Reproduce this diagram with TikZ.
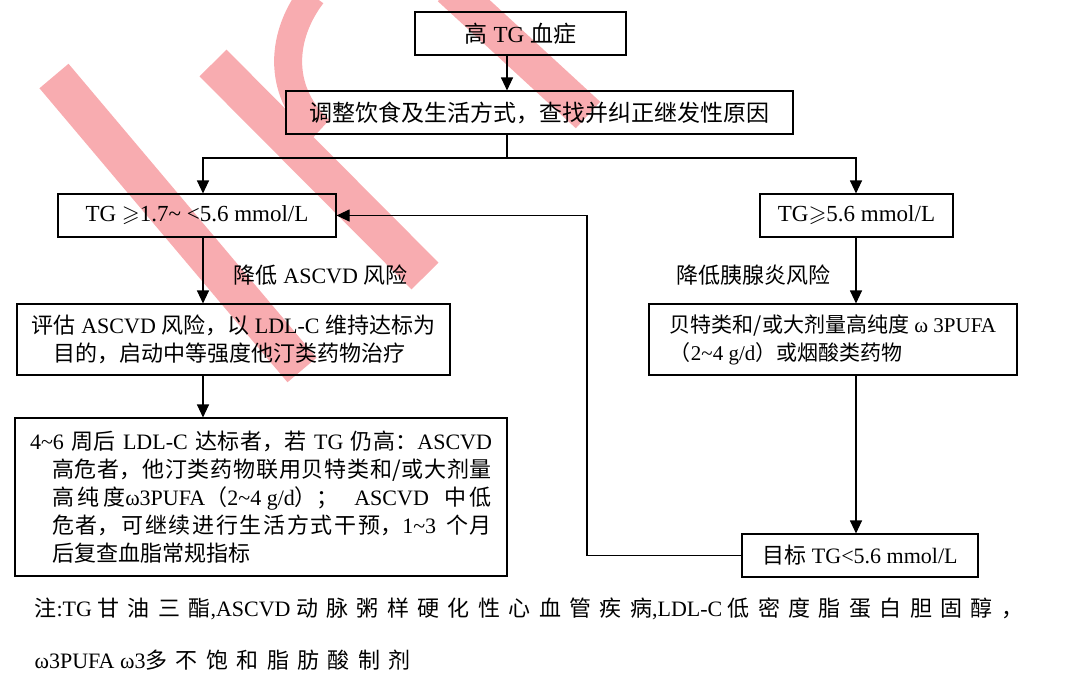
\documentclass[tikz,border=0pt]{standalone}
\usepackage{fontspec}
\usepackage{amssymb}
\setmainfont{Liberation Serif}
\newfontfamily\cjk{Noto Sans CJK SC}
\newfontfamily\cjknote[LetterSpace=38]{Noto Sans CJK SC}
\newcommand\hz[1]{{\cjk #1}}
\newcommand\hzn[1]{{\cjknote #1}}
\newcommand\tl{\textasciitilde}
\XeTeXlinebreaklocale "zh"
\XeTeXlinebreakskip=0pt plus 1pt
\usetikzlibrary{arrows.meta}
\definecolor{wmred}{RGB}{248,172,176}
\tikzset{
  box/.style={draw,minimum height=43pt,inner xsep=12pt,font=\fontsize{22}{28}\selectfont},
  lbl/.style={font=\fontsize{22}{28}\selectfont},
  wm/.style={wmred,line width=38pt},
}
\begin{document}
\begin{tikzpicture}[x=1pt,y=-1pt,>={Triangle[width=12pt,length=13pt]},line width=1.1pt]
    \useasboundingbox (0,0) rectangle (1075,673);
    % watermark
    \draw[wm] (54,76)--(302,370);
    \draw[wm] (213,63)--(425,276);
    \draw[wm,line width=28pt] (312,-5) .. controls (278,40) and (280,95) .. (320,130);
    \draw[wm,line width=36pt] (450,-12)--(588,115);
    % boxes
    \node[box,minimum width=211pt,font=\fontsize{23}{28}\selectfont] (top) at (520.5,33.5) {\hz{高} TG \hz{血症}};
    \node[box,minimum width=507pt,font=\fontsize{23}{28}\selectfont] (adj) at (539.5,112.5) {\hz{调整饮食及生活方式，查找并纠正继发性原因}};
    \node[box,minimum width=278pt,font=\fontsize{23}{28}\selectfont] (low) at (197,215.5) {TG $\geqslant$1.7\tl{} <5.6 mmol/L};
    \node[box,minimum width=193pt,font=\fontsize{23}{28}\selectfont] (high) at (856.5,215.5) {TG$\geqslant$5.6 mmol/L};
    \node[box,align=left,minimum width=433pt,minimum height=71pt] (eval) at (233.5,339.5)
        {\hz{评估} ASCVD \hz{风险，以} LDL-C \hz{维持达标为}\\
         \hspace*{1em}\hz{目的，启动中等强度他汀类药物治疗}};
    \node[box,align=left,minimum width=368pt,minimum height=71pt,font=\fontsize{21}{28}\selectfont] (fib) at (833,339.5)
        {\hz{贝特类和/或大剂量高纯度} ω 3PUFA\\
         \hz{（}2\tl4 g/d\hz{）或烟酸类药物}};
    \node[box,align=justify,text width=462pt,inner xsep=15pt,minimum height=158pt] (follow) at (261,497)
        {4\tl6 \hz{周后} LDL-C \hz{达标者，若} TG \hz{仍高：}ASCVD\linebreak
         \hspace*{1em}\hz{高危者，他汀类药物联用贝特类和/或大剂量}\linebreak
         \hspace*{1em}\hz{高纯度}ω3PUFA\hz{（}\mbox{2\tl4 g/d}\hz{）；} ASCVD \hz{中低}\linebreak
         \hspace*{1em}\hz{危者，可继续进行生活方式干预，}\mbox{1\tl3} \hz{个月}\linebreak
         \hspace*{1em}\hz{后复查血脂常规指标}};
    \node[box,minimum width=236pt] (goal) at (860,555.5) {\hz{目标} TG<5.6 mmol/L};
    % labels
    \node[lbl,anchor=west] (lblA) at (230,275) {\hz{降低} ASCVD \hz{风险}};
    \node[lbl,anchor=east] (lblB) at (834,275) {\hz{降低胰腺炎风险}};
    \node[anchor=north west,align=left,inner sep=0pt,font=\fontsize{22}{52}\selectfont] (note) at (34,597)
        {\hzn{注}:TG \hzn{甘油三酯},ASCVD \hzn{动脉粥样硬化性心血管疾病},LDL-C \hzn{低密度脂蛋白胆固醇，}\\
         ω3PUFA ω3\hzn{多不饱和脂肪酸制剂}};
    % connectors
    \coordinate (spine) at (507,158);
    \coordinate (lbr) at (203,158);
    \coordinate (rbr) at (856,158);
    \coordinate (fb) at (587,400);
    \draw[->] (top.south-|spine)--(adj.north-|spine);
    \draw[->] (adj.south-|spine)--(spine)--(lbr)--(low.north-|lbr);
    \draw[->] (spine)--(rbr)--(high.north-|rbr);
    \draw[->] (low.south-|lbr)--(eval.north-|lbr);
    \draw[->] (eval.south-|lbr)--(follow.north-|lbr);
    \draw[->] (high.south-|rbr)--(fib.north-|rbr);
    \draw[->] (fib.south-|rbr)--(goal.north-|rbr);
    \draw[->] (goal.west)--(goal.west-|fb)--(fb|-low.east)--(low.east);
\end{tikzpicture}
\end{document}
